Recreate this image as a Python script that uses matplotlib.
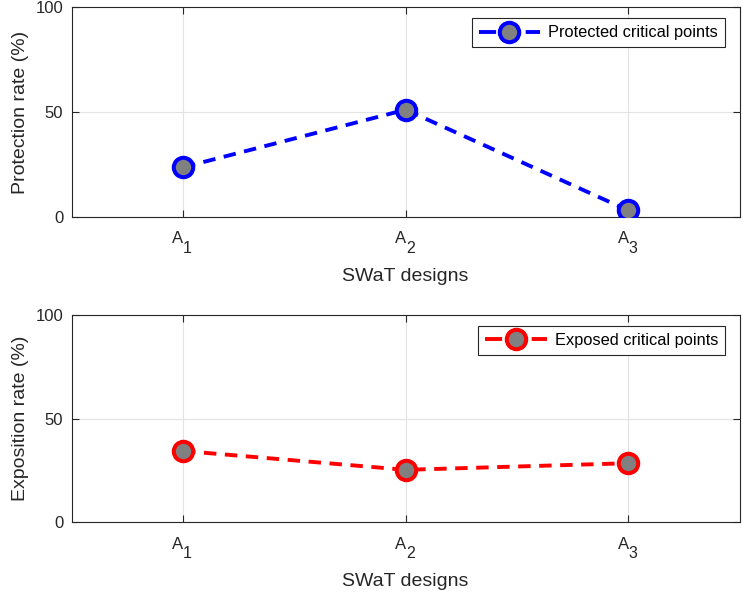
import matplotlib
matplotlib.use("Agg")
import matplotlib.pyplot as plt
import matplotlib.transforms as mtransforms
from matplotlib.legend_handler import HandlerLine2D

# Values (percent)
design_letter = "A"
design_index = ["1", "2", "3"]
x_pos = [1, 2, 3]
protected = [23.6, 51.1, 3.0]
exposed = [34.4, 25.3, 28.5]

plt.rcParams["font.family"] = ["Liberation Sans", "DejaVu Sans"]
INK = "#262626"


def legend_dashes(legline, orig):
    # MATLAB legends show "- O -": one dash each side of the marker
    legline.update_from(orig)
    legline.set_linestyle((0, (4.4, 7.6, 4.4, 10)))


fig = plt.figure(figsize=(7.43, 5.96), dpi=100)
ax1 = fig.add_axes([0.0965, 0.6364, 0.899, 0.3513])
ax2 = fig.add_axes([0.0965, 0.1237, 0.899, 0.3478])

panels = [
    (ax1, protected, "b", "Protected critical points", "Protection rate (%)"),
    (ax2, exposed, "r", "Exposed critical points", "Exposition rate (%)"),
]

for ax, vals, col, lab, ylab in panels:
    line, = ax.plot(x_pos, vals, linestyle=(0, (3.2, 2.2)), color=col,
                    linewidth=2.8, marker="o", markersize=14,
                    markerfacecolor="#808080", markeredgecolor=col,
                    markeredgewidth=2.9, label=lab, zorder=3)
    ax.set_xlim(0.5, 3.5)
    ax.set_ylim(0, 100)
    ax.set_xticks(x_pos)
    ax.set_xticklabels([""] * len(x_pos))
    ax.set_yticks([0, 50, 100])
    ax.grid(True, color="#e3e3e3", linewidth=0.8)
    ax.set_axisbelow(True)
    ax.tick_params(direction="in", top=True, right=True, labelsize=12,
                   length=5, width=0.8, colors=INK, pad=6)
    for s in ax.spines.values():
        s.set_color(INK)
        s.set_linewidth(0.8)

    # MATLAB-style tick labels: "A" with a full-size, lowered subscript
    trans = mtransforms.blended_transform_factory(ax.transData, ax.transAxes)
    for xv, idx in zip(x_pos, design_index):
        ax.annotate(design_letter, xy=(xv, 0), xycoords=trans,
                    xytext=(-3.8, -10.5), textcoords="offset points",
                    ha="center", va="top", fontsize=12, color=INK)
        ax.annotate(idx, xy=(xv, 0), xycoords=trans,
                    xytext=(3.3, -17.3), textcoords="offset points",
                    ha="center", va="top", fontsize=11.5, color=INK)

    ax.set_xlabel("SWaT designs", fontsize=14, color=INK)
    ax.xaxis.set_label_coords(0.5, -0.243)
    ax.set_ylabel(ylab, fontsize=14, color=INK)
    ax.yaxis.set_label_coords(-0.064, 0.5)
    leg = ax.legend(loc="upper right", bbox_to_anchor=(0.978, 0.947),
                    borderaxespad=0, fontsize=11.8, fancybox=False,
                    edgecolor=INK, framealpha=1, handlelength=3.75,
                    handletextpad=0.5, borderpad=0.42,
                    handler_map={line: HandlerLine2D(update_func=legend_dashes)})
    leg.get_frame().set_linewidth(0.8)

fig.savefig("out.png", dpi=100)
